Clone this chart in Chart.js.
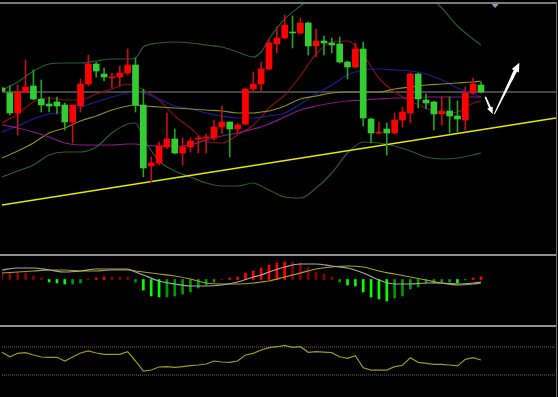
<!DOCTYPE html>
<html>
<head>
<meta charset="utf-8">
<script src="https://cdn.jsdelivr.net/npm/chart.js@4.4.0/dist/chart.umd.min.js"></script>
<style>
  html, body { margin: 0; padding: 0; background: #000; }
  #wrap { position: relative; width: 558px; height: 397px; overflow: hidden; background: #000; }
  canvas { position: absolute; left: 0; }
  #main { top: 0; }
  #macd { top: 256px; }
  #rsi { top: 326px; }
  .sep { position: absolute; left: 0; width: 557px; height: 2px; background: #8f8f8f; }
  .vline { position: absolute; top: 2px; left: 556px; width: 1px; height: 395px; background: #6a6a6a; }
</style>
</head>
<body>
<div id="wrap">
  <canvas id="main" width="558" height="254"></canvas>
  <canvas id="macd" width="558" height="68"></canvas>
  <canvas id="rsi" width="558" height="71"></canvas>
  <div class="sep" style="top:2px;background:#7a7a7a"></div>
  <div class="sep" style="top:254px"></div>
  <div class="sep" style="top:325px"></div>
  <div class="vline"></div>
</div>
<script>
// Candles (price units), one per bar
const candleOpen  = [165,160,140,161,167,154,149,151,148,131,147,169,189,179,175,176,180,188,148,87,
                     90,106,114,100,106,114,115,115,126,131,124,129,164,169,184,209,215,221,220,230,
                     207,212,210,209,191,186,204,134,120,124,120,133,140,179,153,151,139,142,137,133,160,168];
const candleHigh  = [166,167,168,193,183,173,156,156,150,148,174,198,191,185,180,187,204,195,164,96,
                     111,140,124,115,115,117,119,133,147,131,130,165,181,191,214,226,238,237,235,231,
                     224,217,215,216,192,210,211,135,131,130,140,146,180,180,159,152,156,156,152,166,175,171];
const candleLow   = [161,138,118,160,153,141,141,139,123,110,141,167,176,172,165,167,178,141,76,71,
                     88,104,99,88,101,100,100,113,119,96,119,128,161,161,183,200,214,205,219,198,
                     196,198,200,190,174,185,127,110,119,98,119,126,130,145,144,123,128,120,121,123,159,160];
const candleClose = [162,140,161,166,154,148,147,147,131,148,169,189,182,176,176,180,188,148,85,90,
                     107,114,100,106,112,115,116,126,131,124,128,164,169,184,210,215,228,220,230,207,
                     212,210,208,191,186,204,135,120,121,120,133,141,179,154,150,139,142,137,134,160,169,161];

// Bar positions where the indicator lines were read
const lineIdx = [0,2,4,6,8,10,12,14,16,17,18,20,22,24,26,28,30,32,33,34,36,38,40,42,44,46,48,50,52,54,56,58,60,61];
const bbUpper  = [163,171,182,189,190,190,192,194,194,195,206,210,211,210,208,206,201,196,201,214,234,247,258,267,273,276,277,275,271,259,245,227,214,208];
const bbLower  = [76,82,88,98,101,101,106,120,129,130,115,92,82,76,70,67,67,70,67,63,56,55,65,80,100,111,110,107,102,96,94,95,98,100];
const maFast   = [130,139,151,155,153,153,159,164,169,167,163,153,137,125,112,110,118,128,136,145,158,177,199,211,212,198,175,161,152,145,140,141,150,152];
const maBlue   = [121,127,134,139,141,146,151,156,160,161,160,154,147,144,140,137,135,135,136,137,140,149,159,168,178,183,184,183,182,179,173,165,159,156];
const maOlive  = [95,102,110,120,125,132,137,143,147,148,147,146,145,144,143,142,140,140,141,142,147,154,157,160,161,161,161,164,166,168,169,170,171,172];
const maPurple = [128,125,121,116,110,108,108,108,109,109,108,107,107,108,113,117,120,124,126,129,136,143,147,150,152,153,154,155,155,156,156,156,156,156];

// Trend line end points
const trendX = [0, 70.55];
const trendY = [48, 135];

// Hand drawn arrows [bar, price]
const arrowFrom = [[61.55, 156.3], [62.70, 139]];
const arrowTo   = [[62.49, 139], [65.88, 190.3]];
const shiftMark = 62.8;

// MACD panel
const macdHist = [7.5,6.5,6.5,6.5,3.5,1.5,-2.5,-3.5,-4.5,-4.5,-3.5,0.5,1.5,2.5,2.5,2.5,2.5,-2.5,-10.5,-16.5,
                  -17.5,-17.5,-16.5,-14.5,-12.5,-8.5,-5.5,-2.5,0.5,1.5,2.5,6.5,8.5,11.5,14.5,16.5,17.5,17.5,16.5,11.5,
                  7.5,5.5,2.5,-2.5,-5.5,-6.5,-12.5,-17.5,-19.5,-21.5,-18.5,-16.5,-9.5,-7.5,-3.5,-3.5,-2.5,-2.5,-3.5,-0.5,1.5,2.5];
const macdMain   = [9.5,11.5,11.5,9.5,7.5,8.5,10.5,10.5,10.5,7.5,4.5,-1.5,-4.5,-6.5,-6.5,-5.5,-2.5,2.5,4.5,7.5,12.5,15.5,15.5,13.5,11.5,6.5,-0.5,-4.5,-4.5,-3.5,-3.5,-4.5,-3.5,-2.5];
const macdSignal = [6.5,7.5,8.5,9.5,9.5,8.5,8.5,9.5,9.5,8.5,7.5,5.5,3.5,0.5,-3.5,-4.5,-4.5,-3.5,-2.5,-1.5,2.5,6.5,10.5,12.5,13.5,12.5,8.5,5.5,2.5,-0.5,-3.5,-5.5,-4.5,-3.5];

// RSI panel
const rsiValues = [62.4,56.1,61.0,61.9,58.6,55.7,55.3,55.3,50.0,55.7,61.4,64.3,61.4,59.6,59.6,59.6,63.3,50.0,35.7,37.1,
                   41.4,42.1,41.0,42.1,43.3,44.3,45.7,50.0,48.6,48.1,50.0,58.6,61.0,65.7,69.0,70.4,72.4,69.6,70.4,62.4,
                   63.3,62.6,61.9,56.1,53.9,57.6,40.4,37.1,37.1,37.1,41.9,43.9,54.7,48.1,46.7,45.3,45.3,44.3,42.9,52.4,54.7,51.4];
const rsiLevels = [70, 30];

const xMin = 0, xMax = 70.55;
const bars = candleOpen.map((_, i) => i);
const isUp = i => candleClose[i] >= candleOpen[i];
const pts = vals => lineIdx.map((i, k) => ({ x: i, y: vals[k] }));
const hline = v => [{ x: xMin, y: v }, { x: xMax, y: v }];

function histColor(i) {
    const v = macdHist[i];
    const prev = i > 0 ? macdHist[i - 1] : v;
    const growing = Math.abs(v) > Math.abs(prev);
    if (v >= 0) return growing ? '#ff0000' : '#8b0000';
    return growing ? '#00ff00' : '#009a00';
}

function panelOptions(yMin, yMax, padding) {
    return {
        responsive: false,
        animation: false,
        devicePixelRatio: 1,
        events: [],
        layout: { padding: padding },
        plugins: { legend: { display: false }, tooltip: { enabled: false } },
        elements: { point: { radius: 0 }, line: { tension: 0 } },
        datasets: { line: { clip: 0 }, bar: { clip: 0 } },
        scales: {
            x: { type: 'linear', min: xMin, max: xMax, offset: false, display: false },
            y: { type: 'linear', min: yMin, max: yMax, display: false }
        }
    };
}

function maLine(vals, color, order) {
    return {
        type: 'line', data: pts(vals), borderColor: color, borderWidth: 1.2,
        cubicInterpolationMode: 'monotone', order: order
    };
}

// arrows and chart-shift marker
const arrowPlugin = {
    id: 'arrows',
    afterDatasetsDraw(chart) {
        const { ctx, scales: { x, y } } = chart;
        ctx.save();
        ctx.fillStyle = '#ffffff';
        arrowFrom.forEach((from, k) => {
            const x1 = x.getPixelForValue(from[0]), y1 = y.getPixelForValue(from[1]);
            const x2 = x.getPixelForValue(arrowTo[k][0]), y2 = y.getPixelForValue(arrowTo[k][1]);
            const len = Math.hypot(x2 - x1, y2 - y1);
            const ux = (x2 - x1) / len, uy = (y2 - y1) / len;
            const nx = -uy, ny = ux;
            const head = k === 0 ? 7 : 9;
            const hw = k === 0 ? 3 : 4;
            const w0 = k === 0 ? 0.8 : 0.5;
            const w1 = k === 0 ? 1.1 : 1.8;
            const bx = x2 - ux * head, by = y2 - uy * head;
            ctx.beginPath();
            ctx.moveTo(x1 + nx * w0, y1 + ny * w0);
            ctx.lineTo(bx + nx * w1, by + ny * w1);
            ctx.lineTo(bx + nx * hw, by + ny * hw);
            ctx.lineTo(x2, y2);
            ctx.lineTo(bx - nx * hw, by - ny * hw);
            ctx.lineTo(bx - nx * w1, by - ny * w1);
            ctx.lineTo(x1 - nx * w0, y1 - ny * w0);
            ctx.closePath();
            ctx.fill();
        });
        const sx = x.getPixelForValue(shiftMark);
        const top = chart.chartArea.top - 1;
        ctx.fillStyle = '#8d9db0';
        ctx.beginPath();
        ctx.moveTo(sx - 4.5, top);
        ctx.lineTo(sx + 4.5, top);
        ctx.lineTo(sx, top + 5);
        ctx.closePath();
        ctx.fill();
        ctx.restore();
    }
};

// Main price panel
new Chart(document.getElementById('main'), {
    type: 'line',
    data: {
        datasets: [
            {
                type: 'bar', order: 0, grouped: false, barThickness: 6, borderWidth: 0, minBarLength: 1,
                data: bars.map(i => ({ x: i, y: [candleOpen[i], candleClose[i]] })),
                backgroundColor: c => isUp(c.dataIndex) ? '#ff0000' : '#32cd32'
            },
            {
                type: 'bar', order: 1, grouped: false, barThickness: 1, borderWidth: 0,
                data: bars.map(i => ({ x: i, y: [candleLow[i], candleHigh[i]] })),
                backgroundColor: c => isUp(c.dataIndex) ? '#c01010' : '#24a024'
            },
            {
                type: 'line', order: 2, borderColor: '#e8e800', borderWidth: 1.5,
                data: trendX.map((v, k) => ({ x: v, y: trendY[k] }))
            },
            maLine(bbUpper, '#285a38', 3),
            maLine(bbLower, '#285a38', 3),
            maLine(maPurple, '#8c168c', 3),
            maLine(maOlive, '#8e8c18', 3),
            maLine(maBlue, '#14209a', 3),
            maLine(maFast, '#8b0c0c', 3),
            {
                type: 'line', order: 6, borderColor: '#454545', borderWidth: 2,
                data: hline(candleClose[candleClose.length - 1])
            }
        ]
    },
    options: panelOptions(0, 249, { left: 2, right: 2, top: 4, bottom: 1 }),
    plugins: [arrowPlugin]
});

// MACD panel
new Chart(document.getElementById('macd'), {
    type: 'line',
    data: {
        datasets: [
            maLine(macdMain, '#a8a8a8', 0),
            maLine(macdSignal, '#a6a41e', 0),
            {
                type: 'bar', order: 1, grouped: false, barThickness: 2, borderWidth: 0,
                data: bars.map(i => ({ x: i, y: macdHist[i] })),
                backgroundColor: c => histColor(c.dataIndex)
            }
        ]
    },
    options: panelOptions(-44.5, 23.5, { left: 2, right: 2, top: 0, bottom: 0 })
});

// RSI panel
new Chart(document.getElementById('rsi'), {
    type: 'line',
    data: {
        datasets: [
            {
                type: 'line', order: 0, borderColor: '#9c9a1c', borderWidth: 1.2,
                data: bars.map(i => ({ x: i, y: rsiValues[i] }))
            },
            ...rsiLevels.map(v => ({
                type: 'line', order: 1, borderColor: '#6e6e6e', borderWidth: 1,
                borderDash: [1, 1], data: hline(v)
            }))
        ]
    },
    options: panelOptions(0, 100, { left: 2, right: 2, top: 0, bottom: 1 })
});
</script>
</body>
</html>
